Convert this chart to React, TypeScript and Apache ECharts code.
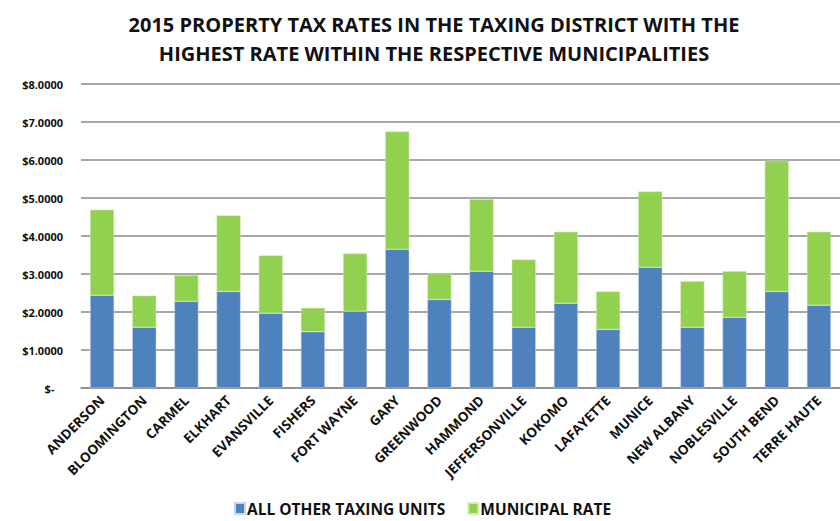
import React, { useEffect, useRef } from "react";
import * as echarts from "echarts";

const categories = [
  "ANDERSON", "BLOOMINGTON", "CARMEL", "ELKHART", "EVANSVILLE", "FISHERS",
  "FORT WAYNE", "GARY", "GREENWOOD", "HAMMOND", "JEFFERSONVILLE", "KOKOMO",
  "LAFAYETTE", "MUNICE", "NEW ALBANY", "NOBLESVILLE", "SOUTH BEND", "TERRE HAUTE",
];
const otherUnits = [2.44, 1.6, 2.28, 2.54, 1.97, 1.48, 2.02, 3.65, 2.33, 3.07, 1.6, 2.23, 1.54, 3.18, 1.6, 1.86, 2.54, 2.18];
const municipalRate = [2.25, 0.83, 0.69, 2.0, 1.52, 0.63, 1.52, 3.1, 0.68, 1.9, 1.78, 1.88, 1.0, 1.99, 1.21, 1.21, 3.44, 1.93];
const seriesNames = ["ALL OTHER TAXING UNITS", "MUNICIPAL RATE"];
const titleLines = [
  "2015 PROPERTY TAX RATES IN THE TAXING DISTRICT WITH THE",
  "HIGHEST RATE WITHIN THE RESPECTIVE MUNICIPALITIES",
];

export default function App() {
  const ref = useRef<HTMLDivElement>(null);
  useEffect(() => {
    document.body.style.margin = "0";
    if (!ref.current) return;
    const chart = echarts.init(ref.current, undefined, { renderer: "svg" });
    const font = "Open Sans";
    chart.setOption({
      animation: false,
      backgroundColor: "#ffffff",
      title: {
        text: titleLines.join("\n"),
        left: 429,
        textAlign: "center",
        top: 5,
        textStyle: {
          fontFamily: font,
          fontWeight: "bold",
          fontSize: 20,
          lineHeight: 29,
          color: "#111",
        },
      },
      legend: {
        top: 500,
        left: 234,
        padding: 0,
        itemWidth: 10,
        itemHeight: 11,
        itemGap: 22,
        icon: "rect",
        textStyle: {
          fontFamily: font,
          fontWeight: "bold",
          fontSize: 15.5,
          lineHeight: 17,
          color: "#111",
          padding: [0, 0, 0, -3],
        },
        data: seriesNames,
      },
      grid: { left: 81, top: 84, bottom: 133, width: 765 },
      xAxis: {
        type: "category",
        data: categories,
        axisLine: { lineStyle: { color: "#8a8a8a", width: 1.5 } },
        axisTick: { show: false },
        axisLabel: {
          rotate: 45,
          interval: 0,
          margin: 10,
          fontFamily: font,
          fontWeight: "bold",
          fontSize: 13.5,
          color: "#111",
        },
      },
      yAxis: {
        type: "value",
        min: 0,
        max: 8,
        interval: 1,
        axisLine: { show: false },
        axisTick: { show: false },
        splitLine: { lineStyle: { color: "#8a8a8a", width: 1.5 } },
        axisLabel: {
          margin: 18,
          fontFamily: font,
          fontWeight: "bold",
          fontSize: 11,
          color: "#111",
          formatter: (v: number) => (v === 0 ? "$-   " : "$" + v.toFixed(4)),
        },
      },
      series: [
        {
          name: seriesNames[0],
          type: "bar",
          stack: "total",
          barWidth: 24,
          data: otherUnits,
          itemStyle: { color: "#4F81BD", borderColor: "#c9d7ea", borderWidth: 0.5 },
        },
        {
          name: seriesNames[1],
          type: "bar",
          stack: "total",
          barWidth: 24,
          data: municipalRate,
          itemStyle: { color: "#92D050", borderColor: "#d3edb9", borderWidth: 0.5 },
        },
      ],
    });
    return () => chart.dispose();
  }, []);
  return <div ref={ref} style={{ width: 840, height: 521 }} />;
}
